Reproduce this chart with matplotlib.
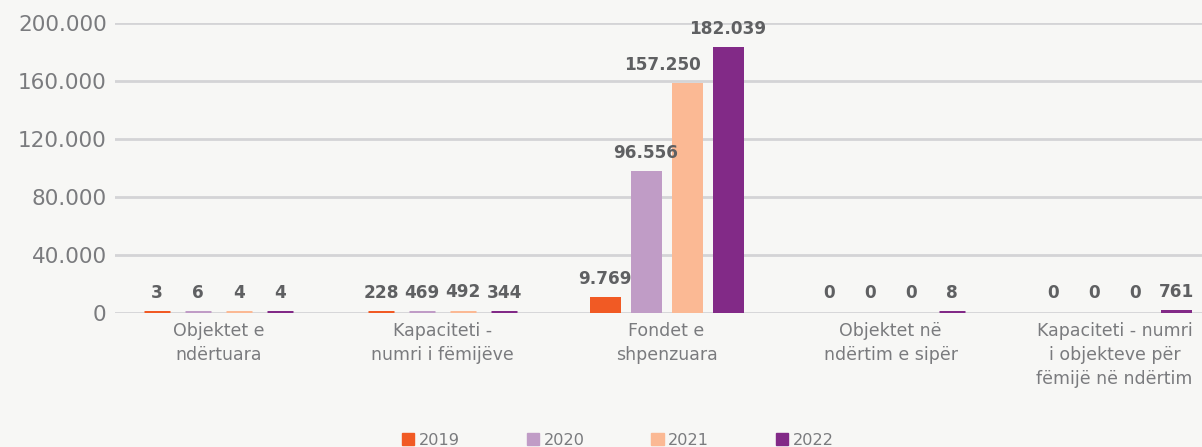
import matplotlib
matplotlib.use("Agg")
import matplotlib.pyplot as plt
from matplotlib.patches import Patch
import numpy as np

categories = [
    "Objektet e\nndërtuara",
    "Kapaciteti -\nnumri i fëmijëve",
    "Fondet e\nshpenzuara",
    "Objektet në\nndërtim e sipër",
    "Kapaciteti - numri\ni objekteve për\nfëmijë në ndërtim",
]
years = ["2019", "2020", "2021", "2022"]
v2019 = [3, 228, 9769, 0, 0]
v2020 = [6, 469, 96556, 0, 0]
v2021 = [4, 492, 157250, 0, 0]
v2022 = [4, 344, 182039, 8, 761]
yticks = [0, 40000, 80000, 120000, 160000, 200000]

colors = ["#f15a24", "#c09cc6", "#fbb994", "#822a87"]
bg = "#f7f7f5"
txt = "#7a7b7e"
lbl = "#5f6062"

plt.rcParams["font.family"] = ["DejaVu Sans"]


def fmt(v):
    return f"{v:,}".replace(",", ".")


W, H = 1202, 447
fig = plt.figure(figsize=(W / 100, H / 100), dpi=100, facecolor=bg)
left, right, bottom, top = 115, 1202, 313.3, 23.3
ax = fig.add_axes([left / W, (H - bottom) / H, (right - left) / W, (bottom - top) / H])
ax.set_facecolor(bg)

x = np.arange(len(categories))
edge = 3.6  # points, keeps the tiny bars visible
width = (31 - edge * 100 / 72) / 224
step = 41 / 224
series = [v2019, v2020, v2021, v2022]
for i, (vals, c) in enumerate(zip(series, colors)):
    pos = x + (i - 1.5) * step
    lws = [edge if v > 0 else 0 for v in vals]
    ax.bar(pos, vals, width, color=c, edgecolor=c, linewidth=lws, zorder=3)
    for j, (p, v) in enumerate(zip(pos, vals)):
        dx = 0
        # 2021 label would run into the 2022 bar -> nudge it left
        if i == 2 and v > 50000 and series[i + 1][j] > v:
            dx = -18
        ax.annotate(fmt(v), (p, v), xytext=(dx, 8), textcoords="offset points",
                    ha="center", va="bottom", fontsize=12.2, fontweight="bold",
                    color=lbl, zorder=5)

ax.set_xlim((115 - 218.5) / 224, (1202 - 218.5) / 224)
ax.set_ylim(0, 200000)
ax.set_yticks(yticks)
ax.set_yticklabels([fmt(t) for t in yticks], fontsize=15.5, color=txt)
ax.set_xticks(x)
ax.set_xticklabels(categories, fontsize=12.5, color=txt, linespacing=1.45)
ax.tick_params(axis="both", length=0)
ax.tick_params(axis="y", pad=6)
ax.tick_params(axis="x", pad=6)
ax.grid(axis="y", color="#d4d4d6", linewidth=2, zorder=0)
for s in ax.spines.values():
    s.set_visible(False)

handles = [Patch(color=c) for c in colors]
fig.legend(handles, years, loc="center", bbox_to_anchor=(618 / W, 0.015),
           ncol=4, frameon=False, fontsize=11.6, labelcolor=txt,
           handlelength=0.75, handleheight=0.75, handletextpad=0.3,
           columnspacing=4.15)

fig.savefig("out.png", dpi=100, facecolor=bg)
